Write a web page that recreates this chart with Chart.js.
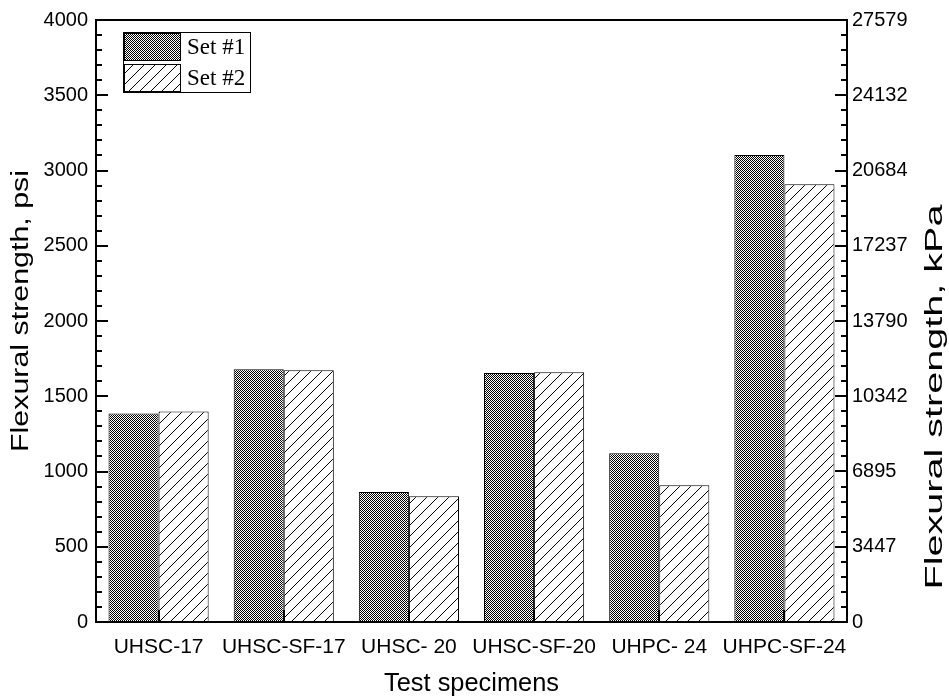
<!DOCTYPE html>
<html>
<head>
<meta charset="utf-8">
<script src="https://cdn.jsdelivr.net/npm/chart.js@4"></script>
<style>
  html, body { margin: 0; padding: 0; background: #fff; }
  canvas { display: block; }
</style>
</head>
<body>
<canvas id="chart" width="949" height="697"></canvas>
<script>
// Specimen groups and measured flexural strength (psi) for the two test sets
const categories = ['UHSC-17', 'UHSC-SF-17', 'UHSC- 20', 'UHSC-SF-20', 'UHPC- 24', 'UHPC-SF-24'];
const set1 = [1385, 1680, 864, 1654, 1122, 3103];
const set2 = [1399, 1673, 836, 1660, 909, 2908];
const seriesNames = ['Set #1', 'Set #2'];

// Left axis (psi) and the equivalent right axis (kPa)
const psiMax = 4000;
const psiStep = 500;
const kpaTicks = [0, 3447, 6895, 10342, 13790, 17237, 20684, 24132, 27579];

const xTitle = 'Test specimens';
const yTitle = 'Flexural strength, psi';
const y2Title = 'Flexural strength, kPa';

const AXIS_FONT = 'Arial, "Liberation Sans", sans-serif';
const LEGEND_FONT = '"Times New Roman", "Liberation Serif", serif';

const canvas = document.getElementById('chart');
const ctx = canvas.getContext('2d');

// Fine black/white checker fill
function checkerPattern() {
  const c = document.createElement('canvas');
  c.width = 2; c.height = 2;
  const g = c.getContext('2d');
  g.fillStyle = '#ffffff'; g.fillRect(0, 0, 2, 2);
  g.fillStyle = '#000000'; g.fillRect(0, 0, 1, 1); g.fillRect(1, 1, 1, 1);
  return ctx.createPattern(c, 'repeat');
}

// Forward-slash hatch fill
function hatchPattern() {
  const s = 11;
  const c = document.createElement('canvas');
  c.width = s; c.height = s;
  const g = c.getContext('2d');
  g.fillStyle = '#ffffff'; g.fillRect(0, 0, s, s);
  g.strokeStyle = '#000000'; g.lineWidth = 1;
  g.beginPath();
  g.moveTo(0, s); g.lineTo(s, 0);
  g.moveTo(-1, 1); g.lineTo(1, -1);
  g.moveTo(s - 1, s + 1); g.lineTo(s + 1, s - 1);
  g.stroke();
  return ctx.createPattern(c, 'repeat');
}

const fills = [checkerPattern(), hatchPattern()];

// Draws a title centred at (cx, cy), rotated, stretched along its reading
// direction to a given length
function drawTitle(c, text, cx, cy, angle, size, length) {
  c.save();
  c.translate(cx, cy);
  c.rotate(angle);
  c.font = size + 'px ' + AXIS_FONT;
  const w = c.measureText(text).width;
  if (length) c.scale(length / w, 1);
  c.fillStyle = '#000';
  c.textAlign = 'center';
  c.textBaseline = 'middle';
  c.fillText(text, 0, 0);
  c.restore();
}

// Frame, inward tick marks, legend box and axis titles
const decorations = {
  id: 'decorations',
  afterDatasetsDraw(chart) {
    const c = chart.ctx;
    const a = chart.chartArea;
    const y = chart.scales.y;
    const y2 = chart.scales.y2;
    const x = chart.scales.x;
    c.save();
    c.strokeStyle = '#000';
    c.lineCap = 'butt';
    c.lineWidth = 2;

    // left axis ticks: major every 500, minor every 100
    for (let v = 0; v <= psiMax + 0.01; v += 100) {
      const py = Math.round(y.getPixelForValue(v));
      const major = v % psiStep === 0;
      c.beginPath();
      c.moveTo(a.left, py);
      c.lineTo(a.left + (major ? 12 : 6), py);
      c.stroke();
    }
    // right axis ticks: major at labelled kPa values, four minors between
    for (let i = 0; i < kpaTicks.length; i++) {
      const py = Math.round(y2.getPixelForValue(kpaTicks[i]));
      c.beginPath();
      c.moveTo(a.right, py);
      c.lineTo(a.right - 12, py);
      c.stroke();
      if (i < kpaTicks.length - 1) {
        const d = (kpaTicks[i + 1] - kpaTicks[i]) / 5;
        for (let k = 1; k < 5; k++) {
          const my = Math.round(y2.getPixelForValue(kpaTicks[i] + d * k));
          c.beginPath();
          c.moveTo(a.right, my);
          c.lineTo(a.right - 6, my);
          c.stroke();
        }
      }
    }
    // bottom ticks at category centres
    for (let i = 0; i < categories.length; i++) {
      const px = Math.round(x.getPixelForValue(i));
      c.beginPath();
      c.moveTo(px, a.bottom);
      c.lineTo(px, a.bottom - 12);
      c.stroke();
    }

    // plot frame
    c.strokeRect(a.left, a.top, a.right - a.left, a.bottom - a.top);

    // legend
    const lx = 123, ly = 32, lw = 127, rowH = 30, swW = 57;
    c.fillStyle = '#fff';
    c.fillRect(lx, ly, lw, rowH * 2);
    c.lineWidth = 1;
    c.strokeRect(lx + 0.5, ly + 0.5, lw, rowH * 2);
    chart.data.datasets.forEach((ds, i) => {
      const top = ly + 1 + i * (rowH + 1);
      c.fillStyle = fills[i];
      c.fillRect(lx + 1, top, swW, rowH - 2);
      c.strokeRect(lx + 1.5, top + 0.5, swW - 1, rowH - 3);
      c.fillStyle = '#000';
      c.font = '23px ' + LEGEND_FONT;
      c.textAlign = 'left';
      c.textBaseline = 'alphabetic';
      c.fillText(ds.label, lx + 64, ly + 22 + i * 31);
    });
    c.restore();

    // axis titles
    drawTitle(c, xTitle, (a.left + a.right) / 2, 684, 0, 25, 175);
    drawTitle(c, yTitle, 22, 311, -Math.PI / 2, 23, 282);
    drawTitle(c, y2Title, 936, 397, -Math.PI / 2, 23, 385);
  }
};

new Chart(ctx, {
  type: 'bar',
  data: {
    labels: categories,
    datasets: [
      {
        label: seriesNames[0],
        data: set1,
        backgroundColor: fills[0],
        borderColor: '#000',
        borderWidth: 1,
        yAxisID: 'y'
      },
      {
        label: seriesNames[1],
        data: set2,
        backgroundColor: fills[1],
        borderColor: '#000',
        borderWidth: 1,
        yAxisID: 'y'
      }
    ]
  },
  options: {
    responsive: false,
    devicePixelRatio: 1,
    animation: false,
    layout: { padding: { top: 20, left: 0, right: 0, bottom: 0 } },
    datasets: { bar: { categoryPercentage: 0.8, barPercentage: 1.0 } },
    plugins: {
      legend: { display: false },
      tooltip: { enabled: false }
    },
    scales: {
      x: {
        grid: { display: false, drawTicks: false },
        border: { display: false },
        ticks: {
          color: '#000',
          padding: 13,
          maxRotation: 0,
          autoSkip: false,
          font: { family: AXIS_FONT, size: 21 }
        },
        afterFit(s) { s.height = 75; }
      },
      y: {
        position: 'left',
        min: 0,
        max: psiMax,
        grid: { display: false, drawTicks: false },
        border: { display: false },
        ticks: {
          stepSize: psiStep,
          color: '#000',
          padding: 8,
          font: { family: AXIS_FONT, size: 20 },
          callback: v => String(v)
        },
        afterFit(s) { s.width = 96; }
      },
      y2: {
        position: 'right',
        min: 0,
        max: kpaTicks[kpaTicks.length - 1],
        grid: { display: false, drawTicks: false },
        border: { display: false },
        afterBuildTicks(s) { s.ticks = kpaTicks.map(v => ({ value: v })); },
        ticks: {
          color: '#000',
          padding: 5,
          font: { family: AXIS_FONT, size: 20 },
          callback: (v, i) => String(kpaTicks[i])
        },
        afterFit(s) { s.width = 102; }
      }
    }
  },
  plugins: [decorations]
});
</script>
</body>
</html>
